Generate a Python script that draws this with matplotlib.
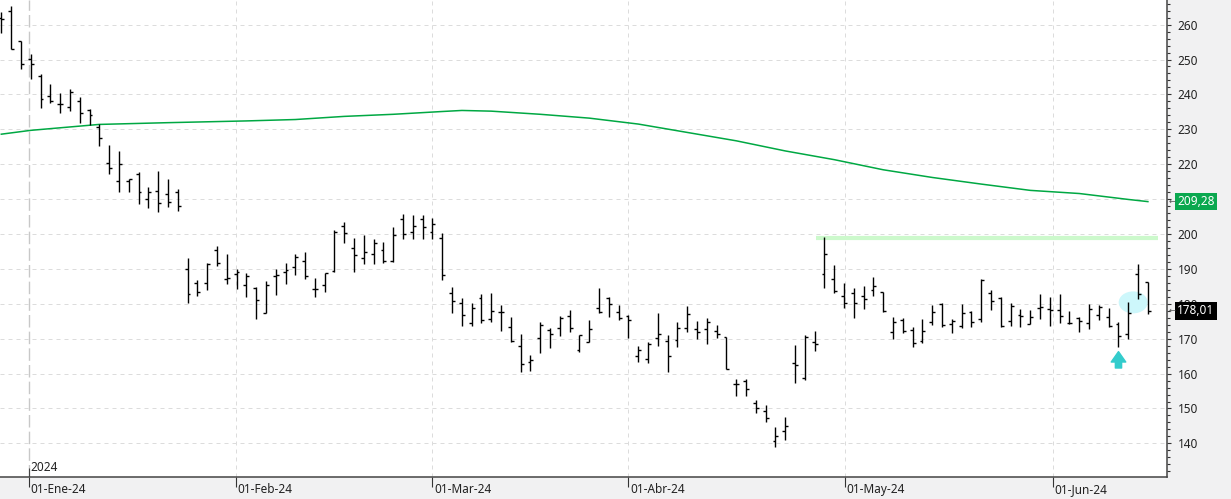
import matplotlib
matplotlib.use('Agg')
from matplotlib import pyplot as plt
from matplotlib.patches import Ellipse
import numpy as np

# daily OHLC, 27-Dec-23 .. 14-Jun-24
opens = [262.0, 263.9, 255.2, 250.1, 245.3, 239.5, 237.2, 236.4, 238.0, 235.5,
         230.7, 220.3, 215.1, 215.2, 217.2, 210.0, 212.3, 211.4, 211.9, 189.9,
         185.9, 185.9, 195.4, 187.1, 188.5, 185.4, 184.4, 177.3, 188.0, 189.1,
         190.5, 192.2, 184.2, 185.3, 189.3, 202.2, 196.1, 193.2, 194.3, 195.3,
         192.3, 204.2, 200.5, 204.2, 200.5, 198.8, 183.0, 180.1, 174.4, 181.6,
         175.6, 177.7, 173.3, 167.9, 163.2, 170.2, 172.5, 173.1, 176.5, 166.7,
         169.0, 178.7, 181.6, 177.6, 176.4, 165.0, 164.1, 170.3, 169.3, 169.5,
         173.0, 172.9, 172.7, 172.3, 170.6, 157.0, 158.0, 151.5, 149.2, 140.7,
         143.5, 163.0, 158.8, 169.0, 188.5, 187.0, 182.1, 183.2, 182.1, 183.9,
         183.3, 171.8, 175.4, 172.4, 169.4, 174.7, 179.9, 174.1, 173.6, 177.7,
         175.6, 183.2, 181.7, 175.0, 176.8, 174.1, 178.7, 178.4, 178.2, 174.6,
         175.8, 174.6, 176.8, 176.1, 174.1, 171.3, 188.5, 186.2]
highs = [263.7, 265.3, 255.2, 251.6, 245.8, 243.0, 240.3, 241.5, 239.2, 235.7,
         231.5, 225.5, 223.8, 215.8, 217.8, 213.4, 218.1, 215.8, 212.9, 193.1,
         186.8, 191.6, 196.6, 194.3, 190.0, 188.7, 184.7, 186.5, 190.0, 191.6,
         194.2, 194.8, 187.3, 188.9, 201.1, 203.4, 198.8, 199.7, 198.5, 197.6,
         201.9, 205.6, 205.4, 205.4, 204.5, 200.2, 184.7, 181.6, 180.1, 182.7,
         183.0, 179.6, 176.1, 171.3, 165.2, 174.7, 173.1, 176.4, 178.2, 171.1,
         175.4, 184.5, 181.9, 179.6, 176.7, 168.0, 169.0, 177.3, 171.0, 174.7,
         179.4, 175.1, 175.9, 173.9, 170.6, 158.5, 158.5, 152.3, 150.9, 144.7,
         147.6, 168.1, 171.0, 172.1, 199.1, 191.1, 186.0, 184.6, 185.1, 187.6,
         183.3, 176.1, 175.8, 173.3, 175.6, 179.6, 180.1, 175.7, 179.9, 178.0,
         187.0, 183.9, 181.9, 180.1, 178.4, 178.2, 182.7, 181.9, 182.7, 177.9,
         176.3, 179.9, 179.6, 178.9, 174.7, 180.6, 191.4, 186.2]
lows = [257.5, 253.0, 247.4, 244.5, 236.2, 237.6, 234.8, 235.3, 231.9, 231.2,
        225.3, 217.3, 212.1, 212.1, 208.7, 207.5, 206.4, 207.8, 206.7, 180.1,
        182.1, 183.9, 190.7, 185.8, 184.3, 182.0, 175.6, 177.3, 182.6, 185.6,
        188.3, 187.2, 182.0, 183.5, 189.1, 197.5, 189.2, 191.3, 191.3, 191.8,
        192.1, 198.5, 198.5, 198.5, 198.5, 186.7, 177.4, 173.7, 173.7, 174.6,
        174.9, 172.3, 169.1, 160.5, 160.8, 166.0, 167.4, 170.9, 171.8, 166.3,
        169.0, 177.4, 176.1, 175.3, 170.3, 163.4, 163.1, 168.0, 160.5, 167.7,
        172.0, 170.0, 168.6, 170.3, 161.4, 153.7, 153.7, 148.8, 146.2, 138.9,
        141.1, 157.4, 158.3, 166.4, 184.6, 183.0, 178.9, 176.0, 178.4, 182.3,
        177.7, 170.0, 171.5, 167.7, 168.9, 174.0, 173.3, 171.5, 173.0, 173.4,
        174.7, 178.1, 173.4, 173.6, 173.3, 174.1, 175.6, 173.7, 174.6, 174.2,
        172.0, 172.7, 175.4, 173.3, 167.5, 169.8, 181.3, 177.0]
closes = [261.5, 253.1, 248.7, 248.7, 238.6, 238.0, 237.3, 240.7, 234.8, 234.0,
          227.5, 218.8, 220.1, 215.7, 211.9, 212.1, 208.9, 209.1, 207.9, 182.7,
          183.3, 191.4, 191.6, 187.4, 189.1, 188.0, 181.1, 185.3, 188.2, 189.6,
          193.5, 188.0, 184.2, 188.9, 200.7, 200.2, 193.9, 194.9, 197.3, 192.2,
          199.7, 200.0, 202.3, 201.9, 202.9, 188.2, 180.8, 176.8, 178.7, 175.3,
          177.9, 177.6, 169.4, 162.8, 163.8, 173.8, 171.3, 176.0, 173.1, 171.1,
          172.7, 177.7, 179.9, 176.0, 175.3, 166.7, 168.4, 171.3, 165.0, 173.0,
          177.0, 171.8, 174.7, 171.3, 161.4, 157.1, 155.6, 150.2, 147.3, 142.1,
          145.0, 162.4, 170.4, 168.4, 194.2, 183.6, 180.3, 180.2, 181.3, 185.0,
          177.9, 174.7, 172.2, 168.7, 172.2, 177.7, 174.0, 175.1, 177.4, 174.9,
          186.8, 180.8, 173.6, 179.4, 176.5, 176.3, 179.0, 178.2, 176.4, 174.6,
          175.2, 178.5, 179.2, 173.6, 170.8, 177.3, 182.7, 178.01]

# long moving average (bar index, value)
ma_x = [0, 3, 10, 17, 25, 30, 35, 40, 45, 47, 50, 55, 60, 65, 70, 75, 80,
        85, 90, 95, 100, 105, 110, 115, 117]
ma_y = [228.6, 229.7, 231.4, 231.9, 232.4, 232.8, 233.7, 234.3, 235.1, 235.4,
        235.2, 234.3, 233.2, 231.5, 229.1, 226.7, 223.8, 221.3, 218.4, 216.2,
        214.3, 212.5, 211.6, 209.9, 209.28]

month_pos = [2.86, 23.95, 44.0, 64.0, 86.05, 107.35]
month_labels = ['01-Ene-24', '01-Feb-24', '01-Mar-24', '01-Abr-24', '01-May-24', '01-Jun-24']

price_ticks = [140, 150, 160, 170, 180, 190, 200, 210, 220, 230, 240, 250, 260]

resist_level = 198.8
resist_start = 83.1
last_ma = 209.28
last_close = 178.01
signal_bar = 114

plt.rcParams['font.family'] = ['Noto Sans', 'DejaVu Sans']

fig = plt.figure(figsize=(12.31, 4.99), dpi=100)
fig.patch.set_facecolor('#f1f1f2')
ax = fig.add_axes([0, 22 / 499, 1167 / 1231, 477 / 499])
ax.set_facecolor('white')

x = np.arange(len(closes))
ax.set_xlim(-0.133, 118.95)
ax.set_ylim(130.37, 267.05)

# grid
for v in price_ticks:
    ax.axhline(v, color='#dcdcdc', lw=0.72, linestyle=(0, (4, 4)), zorder=0)
for i, p in enumerate(month_pos):
    if i == 0:
        ax.axvline(p, color='#c8c8c8', lw=1.0, linestyle=(0, (9, 3)), zorder=0)
    else:
        ax.axvline(p, color='#dcdcdc', lw=0.72, linestyle=(0, (4, 4)), zorder=0)

# signal marker
ax.add_patch(Ellipse((115.5, 180.4), 2.96, 6.3, facecolor='#cdf7fb', edgecolor='none', zorder=1))
ax.annotate('', xy=(signal_bar, 166.3), xytext=(signal_bar, 161.6),
            arrowprops=dict(arrowstyle='simple,head_width=1.05,head_length=0.75,tail_width=0.45',
                            color='#33cccc', mutation_scale=10, shrinkA=0, shrinkB=0), zorder=2)

# resistance and moving average
ax.hlines(resist_level, resist_start, 118.0, color='#ccf9cc', lw=3, zorder=1)
ax.plot(ma_x, ma_y, color='#00a843', lw=1.1, zorder=2)

# OHLC bars
ax.vlines(x, lows, highs, color='black', lw=1.0, zorder=3)
ax.hlines(opens, x - 0.3, x, color='black', lw=1.0, zorder=3)
ax.hlines(closes, x, x + 0.3, color='black', lw=1.0, zorder=3)

# axes look
for s in ['top', 'left']:
    ax.spines[s].set_visible(False)
for s in ['right', 'bottom']:
    ax.spines[s].set_color('#444444')
    ax.spines[s].set_linewidth(1.1)

# the 210 label sits under the MA tag, so it is left blank
ax.yaxis.tick_right()
ax.set_yticks(price_ticks)
ax.set_yticklabels(['' if t == 210 else str(t) for t in price_ticks])
ax.set_yticks(np.arange(132, 267, 2), minor=True)
ax.tick_params(axis='y', which='major', length=3.2, width=0.8, color='#333333',
               labelsize=8.5, labelcolor='#222222', pad=4.5)
ax.tick_params(axis='y', which='minor', length=2.0, width=0.8, color='#333333')

ax.set_xticks(month_pos)
ax.set_xticklabels([])
ax.tick_params(axis='x', which='major', length=7.2, width=0.8, color='#333333')
for p, lab in zip(month_pos, month_labels):
    ax.text(p + 0.15, -0.027, lab, transform=ax.get_xaxis_transform(), ha='left',
            va='center', fontsize=8.5, color='#222222', clip_on=False)

ax.text(month_pos[0] + 0.15, 0.019, '2024', transform=ax.get_xaxis_transform(),
        ha='left', va='center', fontsize=8.5, color='#222222')
ax.vlines(month_pos[0], 130.37, 132.95, color='#444444', lw=0.8, zorder=3)

# last value tags on the price axis
ax.text(1.0086, last_ma, f'{last_ma:.2f}'.replace('.', ','), transform=ax.get_yaxis_transform(),
        ha='left', va='center', fontsize=8.5, color='white', clip_on=False, zorder=5,
        bbox=dict(boxstyle='square,pad=0.2', fc='#0aa84f', ec='none'))
ax.text(1.0086, last_close, f'{last_close:.2f}'.replace('.', ','), transform=ax.get_yaxis_transform(),
        ha='left', va='center', fontsize=8.5, color='white', clip_on=False, zorder=5,
        bbox=dict(boxstyle='square,pad=0.2', fc='black', ec='none'))
for v in [last_ma, last_close]:
    ax.text(1.0015, v, '\u2190', transform=ax.get_yaxis_transform(), ha='left',
            va='center', fontsize=6, color='#555555', clip_on=False, zorder=5)

plt.savefig('out.png', dpi=100, facecolor=fig.get_facecolor())
